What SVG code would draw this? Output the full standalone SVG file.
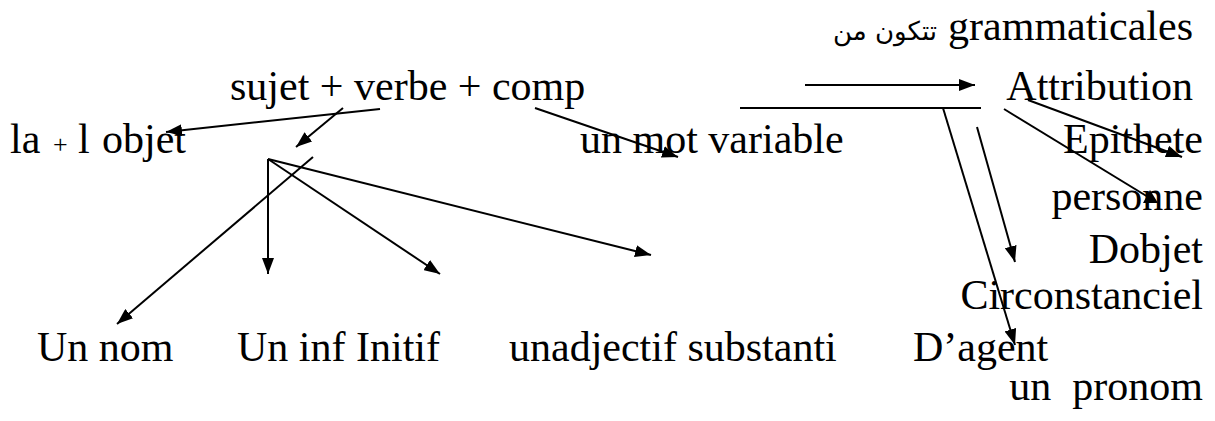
<svg xmlns="http://www.w3.org/2000/svg" width="1215" height="421" viewBox="0 0 1215 421">
<defs>
<style>
text{font-family:"Liberation Serif","Times New Roman",serif;font-size:42px;fill:#000}
.ar{font-family:"DejaVu Sans",sans-serif;font-size:26px}
.sm{font-size:26px}
.c line{stroke:#000;stroke-width:2}
.a{marker-end:url(#ah)}
</style>
<marker id="ah" viewBox="0 0 16 12" refX="16" refY="6" markerWidth="16" markerHeight="12" markerUnits="userSpaceOnUse" orient="auto">
<path d="M0,0 L16,6 L0,12 z" fill="#000"/>
</marker>
</defs>
<rect width="1215" height="421" fill="#fff"/>
<g id="n-grammaticales">
<text class="ar" x="937" y="40" text-anchor="end">تتكون من</text>
<text x="1193" y="40" text-anchor="end">grammaticales</text>
</g>
<g id="n-sujet"><text x="230" y="100">sujet + verbe + comp</text></g>
<g id="n-attribution"><text x="1193" y="100" text-anchor="end">Attribution</text></g>
<g id="n-objet">
<text x="10" y="153">la</text>
<text class="sm" x="53" y="153">+</text>
<text x="78" y="153">l</text>
<text x="102" y="153" font-size="44">objet</text>
</g>
<g id="n-mot"><text x="580" y="153">un mot variable</text></g>
<g id="n-epithete"><text x="1203" y="153" text-anchor="end">Epithete</text></g>
<g id="n-personne"><text x="1203" y="210" text-anchor="end">personne</text></g>
<g id="n-dobjet"><text x="1203" y="263" text-anchor="end">Dobjet</text></g>
<g id="n-circ"><text x="1203" y="309" text-anchor="end">Circonstanciel</text></g>
<g id="n-nom"><text x="37" y="361">Un nom</text></g>
<g id="n-inf"><text x="237" y="361">Un inf Initif</text></g>
<g id="n-adj"><text x="509" y="361">unadjectif substanti</text></g>
<g id="n-agent"><text x="913" y="361">D’agent</text></g>
<g id="n-pronom"><text x="1203" y="400" text-anchor="end" xml:space="preserve">un  pronom</text></g>
<g id="connectors" class="c">
<line class="a" x1="380" y1="109" x2="166" y2="132"/>
<line class="a" x1="343" y1="108" x2="296" y2="147"/>
<line class="a" x1="535" y1="108" x2="678" y2="157"/>
<line class="a" x1="805" y1="85" x2="975" y2="85"/>
<line x1="740" y1="108" x2="981" y2="108"/>
<line class="a" x1="1028" y1="100" x2="1182" y2="157"/>
<line x1="1004" y1="109" x2="1153" y2="200"/>
<path d="M1150,190 L1143,203 L1158,203 z" fill="#000"/>
<line class="a" x1="977" y1="127" x2="1015" y2="262"/>
<line class="a" x1="943" y1="108" x2="1015" y2="345"/>
<line class="a" x1="268" y1="159" x2="268" y2="274"/>
<line class="a" x1="268" y1="159" x2="440" y2="274"/>
<line class="a" x1="268" y1="159" x2="651" y2="255"/>
<line class="a" x1="313" y1="157" x2="117" y2="324"/>
</g>
</svg>
